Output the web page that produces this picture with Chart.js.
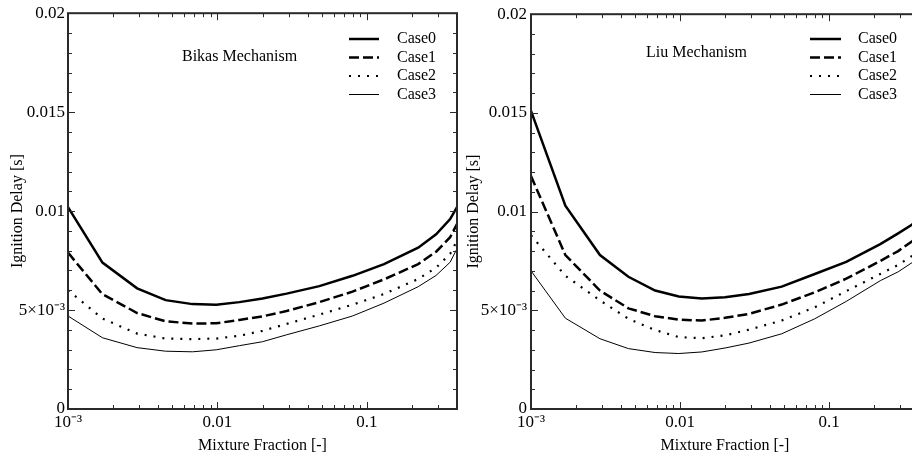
<!DOCTYPE html>
<html>
<head>
<meta charset="utf-8">
<script src="https://cdn.jsdelivr.net/npm/chart.js@4.4.1/dist/chart.umd.min.js"></script>
<style>
html, body { margin: 0; padding: 0; background: #fff; overflow: hidden; width: 912px; height: 459px; }
canvas { position: absolute; top: 0; }
#left { left: 0; }
#right { left: 456px; }
</style>
</head>
<body>
<canvas id="left" width="462" height="459"></canvas>
<canvas id="right" width="470" height="459"></canvas>
<script>
// mixture fraction grid (same for both mechanisms)
const mixFrac = [0.001, 0.0017, 0.0029, 0.0045, 0.0068, 0.0098, 0.014, 0.02, 0.029, 0.048, 0.08, 0.13, 0.22, 0.29, 0.36, 0.4];

const caseLabels = ['Case0', 'Case1', 'Case2', 'Case3'];

// ignition delay [s], Bikas mechanism
const bikasCase0 = [0.0102, 0.0074, 0.0061, 0.0055, 0.0053, 0.00527, 0.0054, 0.00558, 0.00583, 0.00621, 0.00673, 0.00732, 0.00815, 0.00883, 0.0096, 0.0102];
const bikasCase1 = [0.0079, 0.0058, 0.00485, 0.00443, 0.00432, 0.00433, 0.0045, 0.00468, 0.00495, 0.0054, 0.00593, 0.00655, 0.00732, 0.00795, 0.00868, 0.00935];
const bikasCase2 = [0.006, 0.00457, 0.00381, 0.00356, 0.00353, 0.00356, 0.0037, 0.00395, 0.0043, 0.00477, 0.00527, 0.00581, 0.00657, 0.00714, 0.00784, 0.00851];
const bikasCase3 = [0.0047, 0.0036, 0.0031, 0.00292, 0.00289, 0.00299, 0.0032, 0.0034, 0.00375, 0.0042, 0.0047, 0.00535, 0.00618, 0.00675, 0.00742, 0.0081];

// ignition delay [s], Liu mechanism
const liuCase0 = [0.0151, 0.0103, 0.0078, 0.0067, 0.006, 0.0057, 0.0056, 0.00566, 0.00583, 0.0062, 0.00684, 0.00745, 0.00835, 0.0089, 0.00935, 0.0097];
const liuCase1 = [0.0118, 0.0078, 0.006, 0.0051, 0.0047, 0.00453, 0.00448, 0.00462, 0.00482, 0.00529, 0.00591, 0.0066, 0.0075, 0.008, 0.0085, 0.0088];
const liuCase2 = [0.0088, 0.00675, 0.0055, 0.00457, 0.004, 0.00364, 0.00359, 0.00373, 0.00402, 0.00448, 0.00515, 0.00597, 0.00684, 0.0073, 0.00776, 0.0081];
const liuCase3 = [0.007, 0.0046, 0.00356, 0.00306, 0.00286, 0.00281, 0.00289, 0.00309, 0.00334, 0.00381, 0.00457, 0.00545, 0.0065, 0.00695, 0.00742, 0.0077];

// tick labels
const xTickValues = [0.001, 0.01, 0.1];
const xTickLabels = ['10⁻³', '0.01', '0.1'];
const yTickValues = [0, 0.005, 0.01, 0.015, 0.02];
const yTickLabels = ['0', '5×10⁻³', '0.01', '0.015', '0.02'];

// line styles per case
const caseWidths = [2.5, 2.5, 2.2, 1];
const caseDashes = [[], [10, 4], [2, 7], []];

const axisColor = '#2a2a2a';
Chart.defaults.font.family = '"Liberation Serif", "Times New Roman", serif';
Chart.defaults.color = '#000';

// box, inward ticks, annotation text and legend
const framePlugin = {
    id: 'frame',
    afterDatasetsDraw(chart, args, opts) {
        const { ctx, chartArea: a, scales: { x, y } } = chart;
        const seg = (x1, y1, x2, y2) => { ctx.beginPath(); ctx.moveTo(x1, y1); ctx.lineTo(x2, y2); ctx.stroke(); };
        ctx.save();
        ctx.strokeStyle = axisColor;
        ctx.lineWidth = 1;
        xTickValues.forEach((d) => {
            for (let m = 1; m <= 9; m++) {
                const v = m * d;
                if (v > x.max) break;
                const px = Math.round(x.getPixelForValue(v)) + 0.5;
                const len = m === 1 ? 7 : 4;
                seg(px, a.bottom, px, a.bottom - len);
                seg(px, a.top, px, a.top + len);
            }
        });
        for (let k = 0; k <= 20; k++) {
            const py = Math.round(y.getPixelForValue(k * 0.001)) + 0.5;
            const len = k % 5 === 0 ? 7 : 4;
            seg(a.left, py, a.left + len, py);
            seg(a.right, py, a.right - len, py);
        }
        ctx.lineWidth = 2;
        ctx.strokeRect(a.left, a.top, a.right - a.left, a.bottom - a.top);

        ctx.font = '16px "Liberation Serif", serif';
        ctx.fillStyle = '#000';
        ctx.textBaseline = 'middle';
        ctx.textAlign = 'left';
        ctx.fillText(opts.note, opts.noteX, opts.noteY);
        chart.data.datasets.forEach((ds, i) => {
            const yy = opts.legendY + i * opts.legendStep;
            ctx.beginPath();
            ctx.setLineDash(ds.borderDash || []);
            ctx.lineWidth = ds.borderWidth;
            ctx.strokeStyle = ds.borderColor;
            ctx.moveTo(opts.legendX, yy);
            ctx.lineTo(opts.legendX + opts.lineLen, yy);
            ctx.stroke();
            ctx.setLineDash([]);
            ctx.fillText(ds.label, opts.legendX + opts.lineLen + opts.gap, yy);
        });
        ctx.restore();
    }
};

const makeChart = (canvasId, series, panel) => {
    const datasets = series.map((values, i) => ({
        label: caseLabels[i],
        data: values.map((v, j) => ({ x: mixFrac[j], y: v })),
        borderColor: '#000',
        borderWidth: caseWidths[i],
        borderDash: caseDashes[i],
        pointRadius: 0,
        tension: 0,
        fill: false,
    }));
    return new Chart(document.getElementById(canvasId).getContext('2d'), {
        type: 'line',
        data: { datasets },
        options: {
            responsive: false,
            animation: false,
            layout: { padding: { top: 12, right: panel.padRight, left: 0, bottom: 0 } },
            plugins: {
                legend: { display: false },
                tooltip: { enabled: false },
                frame: panel,
            },
            scales: {
                x: {
                    type: 'logarithmic',
                    min: 0.001,
                    max: 0.4,
                    afterBuildTicks: (s) => { s.ticks = xTickValues.map(v => ({ value: v })); },
                    afterFit: (s) => { s.height = 50; },
                    ticks: {
                        padding: 3,
                        maxRotation: 0,
                        autoSkip: false,
                        font: { size: 17 },
                        callback: (value, index) => xTickLabels[index],
                    },
                    grid: { display: false, drawTicks: false },
                    border: { display: false },
                    title: {
                        display: true,
                        text: 'Mixture Fraction [-]',
                        font: { size: 16 },
                        padding: { top: 4, bottom: 4 },
                    },
                },
                y: {
                    type: 'linear',
                    min: 0,
                    max: 0.02,
                    afterBuildTicks: (s) => { s.ticks = yTickValues.map(v => ({ value: v })); },
                    afterFit: (s) => { s.width = panel.yWidth; },
                    ticks: {
                        padding: panel.yPad,
                        autoSkip: false,
                        font: { size: 17 },
                        callback: (value, index) => yTickLabels[index],
                    },
                    grid: { display: false, drawTicks: false },
                    border: { display: false },
                    title: {
                        display: true,
                        text: 'Ignition Delay [s]',
                        font: { size: 16 },
                        padding: { top: 8, bottom: 0 },
                    },
                },
            },
        },
        plugins: [framePlugin],
    });
};

makeChart('left', [bikasCase0, bikasCase1, bikasCase2, bikasCase3], {
    note: 'Bikas Mechanism', noteX: 182, noteY: 57,
    legendX: 349, legendY: 39, legendStep: 18.5, lineLen: 30, gap: 18,
    yWidth: 68, yPad: 3, padRight: 5,
});
makeChart('right', [liuCase0, liuCase1, liuCase2, liuCase3], {
    note: 'Liu Mechanism', noteX: 190, noteY: 53,
    legendX: 354, legendY: 39, legendStep: 18.5, lineLen: 31, gap: 17,
    yWidth: 75, yPad: 4, padRight: 7,
});
</script>
</body>
</html>
